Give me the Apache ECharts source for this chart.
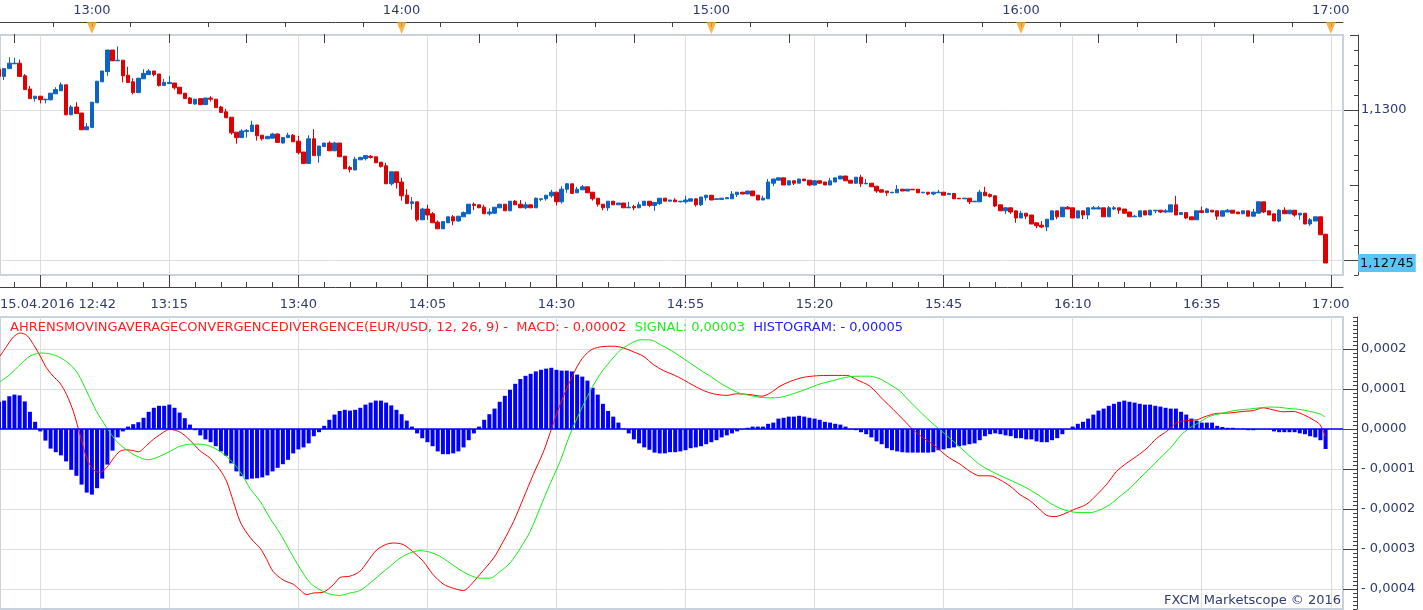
<!DOCTYPE html>
<html>
<head>
<meta charset="utf-8">
<script src="https://cdn.jsdelivr.net/npm/echarts@6/dist/echarts.min.js"></script>
<style>
html, body { margin: 0; padding: 0; background: #fff; }
#main { width: 1423px; height: 610px; }
</style>
</head>
<body>
<div id="main"></div>
<script>
// EUR/USD 1-minute bars from 12:42 (index 0) to 16:59, row = [open, close, low, high]
var candles = [
[1.13068,1.13056,1.13056,1.13068],[1.13056,1.13069,1.13050,1.13069],[1.13069,1.13078,1.13069,1.13088],[1.13077,1.13078,1.13077,1.13087],[1.13078,1.13056,1.13056,1.13084],
[1.13057,1.13034,1.13034,1.13060],[1.13035,1.13019,1.13019,1.13040],[1.13019,1.13023,1.13014,1.13023],[1.13023,1.13017,1.13011,1.13023],[1.13017,1.13018,1.13011,1.13018],
[1.13017,1.13028,1.13016,1.13028],[1.13027,1.13034,1.13027,1.13038],[1.13032,1.13042,1.13032,1.13046],[1.13042,1.12992,1.12992,1.13042],[1.12992,1.13005,1.12992,1.13008],
[1.13005,1.12994,1.12994,1.13013],[1.12995,1.12967,1.12967,1.12995],[1.12967,1.12972,1.12967,1.12978],[1.12971,1.13013,1.12971,1.13013],[1.13012,1.13048,1.13012,1.13048],
[1.13047,1.13065,1.13047,1.13065],[1.13064,1.13100,1.13057,1.13100],[1.13100,1.13082,1.13082,1.13100],[1.13082,1.13083,1.13082,1.13106],[1.13083,1.13057,1.13046,1.13083],
[1.13058,1.13046,1.13046,1.13072],[1.13047,1.13029,1.13026,1.13053],[1.13029,1.13053,1.13029,1.13053],[1.13052,1.13061,1.13052,1.13068],[1.13059,1.13065,1.13059,1.13068],
[1.13065,1.13059,1.13056,1.13065],[1.13060,1.13041,1.13039,1.13060],[1.13041,1.13046,1.13041,1.13052],[1.13044,1.13046,1.13044,1.13057],[1.13045,1.13037,1.13034,1.13045],
[1.13038,1.13027,1.13027,1.13038],[1.13028,1.13019,1.13019,1.13028],[1.13020,1.13011,1.13011,1.13022],[1.13010,1.13018,1.13009,1.13018],[1.13019,1.13009,1.13009,1.13019],
[1.13009,1.13020,1.13009,1.13020],[1.13020,1.13018,1.13014,1.13023],[1.13018,1.13004,1.13004,1.13018],[1.13005,1.12996,1.12996,1.13007],[1.12997,1.12987,1.12987,1.13002],
[1.12988,1.12962,1.12959,1.12988],[1.12963,1.12954,1.12944,1.12963],[1.12954,1.12965,1.12954,1.12968],[1.12964,1.12966,1.12954,1.12968],[1.12964,1.12975,1.12964,1.12982],
[1.12975,1.12957,1.12949,1.12975],[1.12958,1.12952,1.12949,1.12958],[1.12952,1.12956,1.12952,1.12957],[1.12953,1.12960,1.12953,1.12962],[1.12960,1.12946,1.12946,1.12961],
[1.12945,1.12954,1.12944,1.12954],[1.12954,1.12958,1.12954,1.12962],[1.12958,1.12947,1.12947,1.12960],[1.12948,1.12929,1.12926,1.12957],[1.12930,1.12911,1.12911,1.12930],
[1.12911,1.12952,1.12911,1.12958],[1.12952,1.12924,1.12924,1.12968],[1.12924,1.12940,1.12912,1.12940],[1.12939,1.12945,1.12939,1.12945],[1.12945,1.12932,1.12932,1.12948],
[1.12932,1.12945,1.12932,1.12947],[1.12945,1.12922,1.12922,1.12945],[1.12923,1.12902,1.12902,1.12923],[1.12904,1.12901,1.12896,1.12907],[1.12900,1.12918,1.12900,1.12922],
[1.12917,1.12921,1.12917,1.12922],[1.12919,1.12924,1.12916,1.12924],[1.12923,1.12921,1.12919,1.12925],[1.12922,1.12912,1.12912,1.12922],[1.12913,1.12906,1.12904,1.12913],
[1.12907,1.12877,1.12877,1.12912],[1.12877,1.12897,1.12874,1.12897],[1.12897,1.12879,1.12869,1.12897],[1.12880,1.12857,1.12849,1.12887],[1.12858,1.12844,1.12844,1.12868],
[1.12844,1.12847,1.12834,1.12855],[1.12847,1.12817,1.12814,1.12847],[1.12817,1.12835,1.12817,1.12837],[1.12835,1.12825,1.12817,1.12842],[1.12827,1.12812,1.12812,1.12830],
[1.12813,1.12802,1.12802,1.12816],[1.12802,1.12814,1.12802,1.12814],[1.12812,1.12822,1.12812,1.12822],[1.12822,1.12815,1.12808,1.12825],[1.12815,1.12823,1.12814,1.12823],
[1.12822,1.12829,1.12822,1.12831],[1.12827,1.12843,1.12827,1.12843],[1.12843,1.12841,1.12833,1.12846],[1.12842,1.12837,1.12837,1.12842],[1.12838,1.12827,1.12827,1.12842],
[1.12827,1.12830,1.12824,1.12836],[1.12828,1.12838,1.12827,1.12838],[1.12837,1.12843,1.12837,1.12843],[1.12843,1.12832,1.12832,1.12843],[1.12832,1.12848,1.12832,1.12848],
[1.12848,1.12842,1.12842,1.12850],[1.12843,1.12837,1.12837,1.12850],[1.12837,1.12842,1.12835,1.12847],[1.12842,1.12837,1.12837,1.12842],[1.12837,1.12853,1.12837,1.12854],
[1.12851,1.12852,1.12848,1.12852],[1.12852,1.12858,1.12849,1.12858],[1.12857,1.12863,1.12854,1.12867],[1.12863,1.12847,1.12841,1.12863],[1.12847,1.12868,1.12844,1.12873],
[1.12868,1.12877,1.12862,1.12878],[1.12877,1.12861,1.12861,1.12877],[1.12862,1.12868,1.12862,1.12872],[1.12867,1.12872,1.12867,1.12875],[1.12872,1.12862,1.12862,1.12872],
[1.12863,1.12852,1.12849,1.12863],[1.12853,1.12843,1.12839,1.12853],[1.12843,1.12837,1.12833,1.12843],[1.12837,1.12848,1.12832,1.12848],[1.12848,1.12842,1.12842,1.12848],
[1.12842,1.12845,1.12842,1.12845],[1.12845,1.12837,1.12837,1.12845],[1.12837,1.12838,1.12837,1.12847],[1.12839,1.12837,1.12833,1.12842],[1.12837,1.12842,1.12837,1.12847],
[1.12841,1.12848,1.12841,1.12848],[1.12848,1.12841,1.12838,1.12848],[1.12841,1.12846,1.12832,1.12846],[1.12844,1.12853,1.12842,1.12853],[1.12853,1.12848,1.12848,1.12853],
[1.12848,1.12850,1.12848,1.12850],[1.12850,1.12847,1.12847,1.12853],[1.12847,1.12848,1.12846,1.12848],[1.12847,1.12850,1.12844,1.12857],[1.12848,1.12852,1.12848,1.12852],
[1.12852,1.12842,1.12839,1.12852],[1.12842,1.12855,1.12840,1.12855],[1.12854,1.12858,1.12849,1.12858],[1.12858,1.12850,1.12850,1.12858],[1.12851,1.12852,1.12851,1.12852],
[1.12851,1.12853,1.12851,1.12853],[1.12852,1.12854,1.12852,1.12854],[1.12852,1.12860,1.12852,1.12865],[1.12859,1.12863,1.12855,1.12863],[1.12863,1.12860,1.12860,1.12863],
[1.12860,1.12865,1.12860,1.12865],[1.12865,1.12857,1.12857,1.12865],[1.12858,1.12850,1.12850,1.12858],[1.12850,1.12853,1.12850,1.12857],[1.12852,1.12880,1.12852,1.12885],
[1.12878,1.12885,1.12873,1.12885],[1.12883,1.12887,1.12883,1.12887],[1.12887,1.12875,1.12875,1.12887],[1.12875,1.12882,1.12875,1.12883],[1.12882,1.12878,1.12875,1.12882],
[1.12878,1.12885,1.12878,1.12885],[1.12885,1.12882,1.12882,1.12885],[1.12883,1.12875,1.12873,1.12883],[1.12875,1.12882,1.12875,1.12883],[1.12882,1.12878,1.12877,1.12882],
[1.12880,1.12875,1.12875,1.12880],[1.12875,1.12882,1.12875,1.12887],[1.12880,1.12887,1.12880,1.12887],[1.12885,1.12890,1.12885,1.12890],[1.12890,1.12882,1.12882,1.12890],
[1.12883,1.12878,1.12878,1.12883],[1.12878,1.12888,1.12877,1.12888],[1.12888,1.12877,1.12872,1.12892],[1.12877,1.12878,1.12877,1.12885],[1.12878,1.12872,1.12872,1.12878],
[1.12873,1.12865,1.12862,1.12873],[1.12867,1.12863,1.12863,1.12867],[1.12865,1.12862,1.12857,1.12865],[1.12862,1.12863,1.12862,1.12863],[1.12862,1.12868,1.12862,1.12875],
[1.12868,1.12865,1.12865,1.12868],[1.12865,1.12868,1.12865,1.12868],[1.12868,1.12867,1.12867,1.12868],[1.12868,1.12862,1.12862,1.12868],[1.12862,1.12863,1.12862,1.12863],
[1.12863,1.12860,1.12858,1.12863],[1.12860,1.12863,1.12858,1.12863],[1.12862,1.12863,1.12862,1.12867],[1.12863,1.12858,1.12858,1.12863],[1.12859,1.12861,1.12859,1.12862],
[1.12861,1.12852,1.12852,1.12861],[1.12853,1.12852,1.12852,1.12853],[1.12852,1.12853,1.12852,1.12853],[1.12853,1.12847,1.12843,1.12853],[1.12847,1.12848,1.12847,1.12848],
[1.12847,1.12863,1.12847,1.12867],[1.12863,1.12857,1.12857,1.12872],[1.12859,1.12856,1.12854,1.12861],[1.12857,1.12840,1.12838,1.12857],[1.12842,1.12832,1.12832,1.12842],
[1.12832,1.12837,1.12827,1.12838],[1.12837,1.12830,1.12827,1.12837],[1.12832,1.12820,1.12812,1.12832],[1.12820,1.12828,1.12820,1.12832],[1.12828,1.12823,1.12818,1.12828],
[1.12825,1.12810,1.12810,1.12825],[1.12812,1.12807,1.12803,1.12812],[1.12808,1.12805,1.12803,1.12815],[1.12805,1.12818,1.12798,1.12818],[1.12817,1.12832,1.12817,1.12832],
[1.12832,1.12822,1.12818,1.12832],[1.12822,1.12838,1.12822,1.12838],[1.12838,1.12835,1.12835,1.12840],[1.12837,1.12820,1.12820,1.12837],[1.12820,1.12832,1.12820,1.12832],
[1.12832,1.12825,1.12818,1.12832],[1.12825,1.12837,1.12818,1.12837],[1.12835,1.12837,1.12835,1.12840],[1.12835,1.12837,1.12835,1.12840],[1.12837,1.12822,1.12822,1.12837],
[1.12822,1.12837,1.12822,1.12840],[1.12835,1.12837,1.12833,1.12840],[1.12837,1.12833,1.12827,1.12837],[1.12835,1.12828,1.12828,1.12835],[1.12830,1.12822,1.12822,1.12830],
[1.12822,1.12823,1.12822,1.12825],[1.12822,1.12832,1.12822,1.12832],[1.12832,1.12825,1.12825,1.12832],[1.12825,1.12833,1.12825,1.12833],[1.12832,1.12833,1.12828,1.12833],
[1.12833,1.12830,1.12828,1.12833],[1.12830,1.12832,1.12828,1.12835],[1.12830,1.12842,1.12830,1.12842],[1.12842,1.12825,1.12825,1.12857],[1.12826,1.12829,1.12826,1.12829],
[1.12829,1.12820,1.12818,1.12829],[1.12822,1.12817,1.12817,1.12822],[1.12817,1.12832,1.12817,1.12832],[1.12832,1.12829,1.12829,1.12839],[1.12829,1.12835,1.12829,1.12837],
[1.12833,1.12830,1.12830,1.12833],[1.12832,1.12823,1.12817,1.12832],[1.12823,1.12832,1.12823,1.12832],[1.12830,1.12833,1.12830,1.12835],[1.12833,1.12828,1.12828,1.12833],
[1.12830,1.12827,1.12827,1.12830],[1.12827,1.12832,1.12827,1.12832],[1.12832,1.12823,1.12823,1.12832],[1.12823,1.12830,1.12823,1.12835],[1.12828,1.12847,1.12828,1.12847],
[1.12847,1.12830,1.12828,1.12847],[1.12832,1.12825,1.12825,1.12832],[1.12827,1.12815,1.12815,1.12827],[1.12815,1.12833,1.12813,1.12835],[1.12833,1.12827,1.12827,1.12838],
[1.12827,1.12833,1.12827,1.12833],[1.12833,1.12825,1.12822,1.12833],[1.12825,1.12828,1.12817,1.12828],[1.12828,1.12810,1.12810,1.12828],[1.12810,1.12817,1.12807,1.12820],
[1.12815,1.12822,1.12815,1.12822],[1.12822,1.12792,1.12792,1.12822],[1.12793,1.12745,1.12745,1.12793]
];

// MACD histogram, one bar per minute
var histogram = [
6.8e-5,7.1e-5,8.2e-5,8.6e-5,8.4e-5,6.9e-5,4.3e-5,1.8e-5,-0.6e-5,-2.9e-5,
-4.9e-5,-5.8e-5,-6.6e-5,-8.1e-5,-10.2e-5,-11.7e-5,-13.9e-5,-15.9e-5,-16.4e-5,-14.8e-5,
-12.4e-5,-8.9e-5,-5.4e-5,-2.1e-5,-0.6e-5,0.6e-5,1.2e-5,1.7e-5,2.8e-5,4.3e-5,
5.3e-5,5.8e-5,5.8e-5,6.1e-5,5.3e-5,4.1e-5,2.7e-5,1.1e-5,-0.3e-5,-1.6e-5,
-2.6e-5,-3.3e-5,-4.3e-5,-5.6e-5,-6.7e-5,-8.6e-5,-10.6e-5,-11.8e-5,-12.6e-5,-12.4e-5,
-12.3e-5,-12.1e-5,-11.6e-5,-10.6e-5,-9.7e-5,-8.8e-5,-7.7e-5,-6.1e-5,-5.1e-5,-4.6e-5,
-3.6e-5,-1.8e-5,-0.8e-5,0.8e-5,2.3e-5,3.6e-5,4.5e-5,4.8e-5,4.6e-5,4.8e-5,
5.3e-5,6.1e-5,6.6e-5,7.1e-5,7.1e-5,6.6e-5,5.9e-5,4.8e-5,3.7e-5,2.1e-5,
0.6e-5,-1.1e-5,-2.3e-5,-3.3e-5,-4.3e-5,-5.6e-5,-6.3e-5,-6.3e-5,-6.1e-5,-5.6e-5,
-4.6e-5,-2.8e-5,-1.1e-5,0.6e-5,2.3e-5,3.7e-5,5.1e-5,6.8e-5,8.3e-5,9.8e-5,
11.3e-5,12.5e-5,13.3e-5,13.8e-5,14.4e-5,14.8e-5,15.1e-5,15.3e-5,14.8e-5,14.6e-5,
14.6e-5,14.4e-5,13.6e-5,13.1e-5,12.1e-5,10.3e-5,8.6e-5,6.3e-5,4.5e-5,3.1e-5,
1.6e-5,0.1e-5,-1.1e-5,-2.6e-5,-3.6e-5,-4.6e-5,-5.2e-5,-5.9e-5,-6.1e-5,-6.1e-5,
-5.8e-5,-5.8e-5,-5.6e-5,-5.3e-5,-4.8e-5,-4.6e-5,-4.3e-5,-3.8e-5,-3.3e-5,-2.8e-5,
-2.1e-5,-1.6e-5,-1.1e-5,-0.6e-5,-0.1e-5,0.3e-5,0.6e-5,0.6e-5,0.6e-5,1.3e-5,
1.6e-5,2.6e-5,2.8e-5,3.1e-5,3.1e-5,3.3e-5,3.1e-5,2.8e-5,2.6e-5,2.3e-5,
1.8e-5,1.6e-5,1.3e-5,1.1e-5,0.6e-5,-0.1e-5,-0.3e-5,-0.8e-5,-1.3e-5,-2.1e-5,
-3.1e-5,-3.8e-5,-4.8e-5,-5.3e-5,-5.6e-5,-5.8e-5,-5.9e-5,-5.9e-5,-5.9e-5,-5.9e-5,
-5.9e-5,-5.8e-5,-5.3e-5,-5.1e-5,-4.8e-5,-4.6e-5,-4.3e-5,-4.1e-5,-3.8e-5,-3.6e-5,
-2.8e-5,-1.8e-5,-1.3e-5,-1.1e-5,-1.3e-5,-1.6e-5,-1.8e-5,-2.3e-5,-2.3e-5,-2.6e-5,
-2.6e-5,-3.1e-5,-3.3e-5,-3.3e-5,-2.8e-5,-2.3e-5,-1.3e-5,-0.1e-5,0.6e-5,1.3e-5,
1.8e-5,2.6e-5,3.6e-5,4.6e-5,5.1e-5,5.8e-5,6.3e-5,6.8e-5,7.1e-5,6.8e-5,
6.6e-5,6.3e-5,6.1e-5,6.1e-5,5.8e-5,5.6e-5,5.3e-5,5.1e-5,5.1e-5,4.3e-5,
3.6e-5,2.6e-5,2.1e-5,1.6e-5,1.6e-5,1.6e-5,0.8e-5,0.5e-5,0.3e-5,0.3e-5,
0.1e-5,0.1e-5,-0.3e-5,-0.3e-5,-0.1e-5,-0.1e-5,-0.1e-5,-0.6e-5,-0.8e-5,-0.8e-5,
-0.8e-5,-0.8e-5,-1.1e-5,-1.3e-5,-1.8e-5,-2.1e-5,-2.8e-5,-5.0e-5
];

// [minutes after 12:42, value]
var macdLine = [
[0.2,18.2e-5],[1.5,20.7e-5],[2.8,23.0e-5],[4.1,24.0e-5],[5.4,23.4e-5],[6.7,21.1e-5],[8.0,18.2e-5],[9.2,15.3e-5],[10.5,13.2e-5],[11.8,11.5e-5],
[13.1,8.6e-5],[14.4,4.4e-5],[15.7,-1.4e-5],[17.0,-7.3e-5],[18.3,-10.2e-5],[19.6,-10.8e-5],[20.9,-9.6e-5],[22.2,-7.3e-5],[23.4,-5.6e-5],[24.7,-5.2e-5],
[26.0,-5.4e-5],[27.0,-5.7e-5],[28.6,-4.1e-5],[29.9,-2.6e-5],[31.2,-1.4e-5],[32.5,-0.3e-5],[33.1,-0.1e-5],[35.1,-0.8e-5],[37.0,-2.8e-5],[38.9,-5.4e-5],
[40.9,-7.3e-5],[42.8,-10.2e-5],[44.1,-13.1e-5],[45.4,-18.1e-5],[46.7,-23.1e-5],[48.0,-26.0e-5],[49.3,-28.1e-5],[50.6,-29.8e-5],[51.9,-32.7e-5],[53.1,-35.6e-5],
[55.1,-37.8e-5],[57.0,-38.8e-5],[58.3,-40.2e-5],[59.6,-41.4e-5],[60.9,-41.0e-5],[62.8,-40.8e-5],[64.8,-38.9e-5],[66.1,-37.1e-5],[68.0,-36.8e-5],[69.9,-35.6e-5],
[71.2,-33.5e-5],[73.2,-30.2e-5],[75.1,-28.8e-5],[76.4,-28.5e-5],[78.3,-28.9e-5],[80.3,-30.8e-5],[82.2,-33.1e-5],[84.1,-36.4e-5],[86.1,-38.8e-5],[88.0,-39.8e-5],
[90.0,-40.4e-5],[91.3,-39.1e-5],[93.2,-36.3e-5],[95.8,-32.3e-5],[97.7,-28.1e-5],[99.7,-23.1e-5],[101.6,-17.3e-5],[103.5,-11.4e-5],[105.5,-5.6e-5],[107.1,0.3e-5],
[108.7,6.1e-5],[110.6,11.9e-5],[112.6,16.9e-5],[114.5,19.6e-5],[116.4,20.5e-5],[119.0,20.7e-5],[120.9,20.3e-5],[122.9,19.3e-5],[124.8,18.2e-5],[126.8,16.1e-5],
[128.7,14.6e-5],[130.6,13.6e-5],[132.6,12.3e-5],[134.5,10.9e-5],[136.5,9.6e-5],[138.4,8.8e-5],[141.0,8.4e-5],[142.9,8.8e-5],[145.5,8.6e-5],[147.8,8.2e-5],
[149.4,9.0e-5],[151.3,10.7e-5],[153.3,11.9e-5],[155.8,12.9e-5],[158.4,13.3e-5],[161.0,13.4e-5],[164.2,13.4e-5],[166.2,12.3e-5],[168.7,10.7e-5],[171.3,7.3e-5],
[173.3,4.8e-5],[175.2,2.3e-5],[177.1,-0.2e-5],[179.1,-2.3e-5],[181.0,-3.9e-5],[182.9,-6.0e-5],[184.2,-7.3e-5],[186.2,-8.8e-5],[188.1,-10.6e-5],[190.0,-11.7e-5],
[192.0,-11.7e-5],[193.9,-12.7e-5],[195.9,-14.3e-5],[197.8,-16.4e-5],[199.7,-17.9e-5],[201.7,-20.2e-5],[203.0,-21.6e-5],[204.6,-21.9e-5],[206.2,-21.3e-5],[208.1,-20.2e-5],
[210.7,-18.8e-5],[212.7,-16.4e-5],[214.6,-13.8e-5],[216.5,-10.6e-5],[218.5,-8.5e-5],[220.4,-6.8e-5],[222.4,-4.8e-5],[224.3,-2.3e-5],[226.2,-0.6e-5],[228.1,1.5e-5],
[230.1,2.1e-5],[232.0,2.3e-5],[233.9,3.2e-5],[235.9,3.9e-5],[238.4,4.0e-5],[241.0,4.4e-5],[243.0,4.6e-5],[244.9,5.3e-5],[246.8,4.8e-5],[248.8,4.3e-5],
[250.7,4.4e-5],[252.7,3.6e-5],[254.6,2.3e-5],[255.9,1.1e-5],[257.0,-2.0e-5]
];

var signalLine = [
[0.2,11.8e-5],[2.1,13.6e-5],[4.1,16.1e-5],[6.0,18.2e-5],[8.0,19.0e-5],[9.9,18.8e-5],[11.8,17.9e-5],[13.8,16.1e-5],[15.4,13.6e-5],[17.0,9.4e-5],
[18.9,4.4e-5],[20.9,0.3e-5],[22.8,-3.1e-5],[24.7,-5.2e-5],[26.7,-6.8e-5],[28.9,-7.7e-5],[31.2,-6.8e-5],[33.1,-5.6e-5],[35.1,-4.3e-5],[37.0,-3.8e-5],
[38.9,-3.8e-5],[40.9,-4.3e-5],[42.8,-5.6e-5],[44.8,-7.7e-5],[46.7,-10.6e-5],[48.6,-14.8e-5],[50.6,-18.1e-5],[52.5,-22.3e-5],[54.4,-26.0e-5],[56.4,-30.6e-5],
[58.3,-34.8e-5],[60.3,-38.5e-5],[62.2,-40.2e-5],[64.1,-41.3e-5],[66.1,-41.6e-5],[68.0,-41.0e-5],[69.9,-40.4e-5],[71.9,-38.5e-5],[73.8,-36.4e-5],[75.8,-34.3e-5],
[77.7,-32.3e-5],[79.6,-31.0e-5],[81.6,-30.4e-5],[83.5,-30.8e-5],[85.4,-31.8e-5],[87.4,-33.5e-5],[89.3,-35.2e-5],[91.3,-36.6e-5],[93.2,-37.3e-5],[95.1,-37.3e-5],
[97.1,-35.6e-5],[99.0,-33.5e-5],[101.0,-29.8e-5],[102.9,-25.6e-5],[104.8,-19.8e-5],[106.7,-13.9e-5],[108.7,-8.1e-5],[110.6,-1.4e-5],[112.6,4.4e-5],[114.5,9.4e-5],
[116.4,13.6e-5],[118.4,16.9e-5],[120.3,19.6e-5],[122.3,21.3e-5],[124.2,22.3e-5],[126.1,22.3e-5],[128.1,21.1e-5],[130.0,19.8e-5],[131.9,18.2e-5],[133.9,16.5e-5],
[135.8,14.8e-5],[137.8,13.2e-5],[139.7,11.5e-5],[141.6,10.1e-5],[143.6,8.9e-5],[145.5,8.4e-5],[147.4,7.9e-5],[149.4,7.8e-5],[151.3,7.9e-5],[153.3,8.6e-5],
[155.2,9.4e-5],[157.1,10.3e-5],[159.1,11.3e-5],[161.0,11.9e-5],[163.0,12.6e-5],[164.9,13.1e-5],[166.8,13.2e-5],[168.7,13.2e-5],[170.7,12.5e-5],[172.6,11.1e-5],
[174.6,9.4e-5],[176.5,6.8e-5],[178.4,4.4e-5],[180.4,1.9e-5],[182.3,-0.2e-5],[184.2,-2.3e-5],[186.2,-4.6e-5],[188.1,-6.8e-5],[190.0,-8.9e-5],[192.0,-10.4e-5],
[193.9,-11.6e-5],[195.9,-12.8e-5],[197.8,-13.9e-5],[199.7,-15.2e-5],[201.7,-16.8e-5],[203.6,-18.5e-5],[205.5,-19.8e-5],[207.5,-20.6e-5],[209.4,-20.9e-5],[211.4,-20.9e-5],
[213.3,-20.2e-5],[215.2,-18.9e-5],[217.2,-16.8e-5],[219.1,-14.8e-5],[221.0,-12.3e-5],[223.0,-9.8e-5],[224.9,-7.3e-5],[226.9,-4.8e-5],[228.8,-1.8e-5],[230.7,0.3e-5],
[232.7,1.8e-5],[234.6,3.2e-5],[236.5,3.8e-5],[238.5,4.4e-5],[240.4,4.8e-5],[242.3,5.0e-5],[244.3,5.3e-5],[246.2,5.5e-5],[248.1,5.4e-5],[250.1,5.1e-5],
[252.0,4.9e-5],[253.9,4.4e-5],[255.9,3.8e-5],[256.9,3.0e-5]
];

// axis marks, in minutes after 12:42
var hourMarks = [18, 78, 138, 198, 258];                      // 13:00 .. 17:00
var gridMinutes = [8, 33, 58, 83, 108, 133, 158, 183, 208, 233, 258];
var lowerLabels = [33, 58, 83, 108, 133, 158, 183, 208, 233, 258];
var priceTicks = [1.1275, 1.1300];
var priceLabels = [1.12745, 1.1300];
var macdTicks = [0.0002, 0.0001, 0, -0.0001, -0.0002, -0.0003, -0.0004];

var T_MIN = 0.2, T_MAX = 260.37;
var BLUE = '#0b63c4', RED = '#de0000';
var GRIDC = '#dedede', AXISC = '#404040', TXT = '#2f3a72', BORDER = '#c7d2de';
var FONT = 'DejaVu Sans';

function hhmm(t) {
    var m = 12 * 60 + 42 + Math.round(t);
    var mm = m % 60;
    return Math.floor(m / 60) + ':' + (mm < 10 ? '0' : '') + mm;
}

var minorMinutes = [], topTicks = [], topLong = [];
for (var m = 3; m < 260; m += 5) {
    if (gridMinutes.indexOf(m) < 0) minorMinutes.push(m);
}
for (var k = -2; 18 + 7.5 * k < 260; k++) {
    var v = 18 + 7.5 * k;
    if (k % 2 === 0 && k % 8 !== 0) topLong.push(v); else topTicks.push(v);
}

var chart = echarts.init(document.getElementById('main'));

var option = {
    animation: false,
    backgroundColor: '#fff',
    textStyle: { fontFamily: FONT },
    title: [{
        left: 10, top: 321, padding: 0,
        text: '{r|AHRENSMOVINGAVERAGECONVERGENCEDIVERGENCE(EUR/USD, 12, 26, 9) -  MACD: - 0,00002}  {g|SIGNAL: 0,00003}  {b|HISTOGRAM: - 0,00005}',
        textStyle: {
            fontSize: 13, fontWeight: 'normal', fontFamily: FONT,
            rich: {
                r: { color: '#ff2020', fontSize: 13, fontFamily: FONT },
                g: { color: '#22ee22', fontSize: 13, fontFamily: FONT },
                b: { color: '#2020ff', fontSize: 13, fontFamily: FONT }
            }
        }
    }, {
        right: 82, bottom: 3, padding: 0,
        text: 'FXCM Marketscope \u00a9 2016',
        textStyle: { fontSize: 13, fontWeight: 'normal', color: TXT, fontFamily: FONT }
    }],
    grid: [
        { left: 0, top: 35, width: 1343, height: 240, show: true, borderColor: BORDER, borderWidth: 2, outerBoundsMode: 'none' },
        { left: 0, top: 317, width: 1343, height: 292, show: true, borderColor: BORDER, borderWidth: 2, outerBoundsMode: 'none' },
        { left: 0, top: 22, width: 1343, height: 12, show: false, outerBoundsMode: 'none' }
    ],
    xAxis: [
        {   // time axis between the panels
            type: 'value', gridIndex: 0, min: T_MIN, max: T_MAX, position: 'bottom', offset: 12,
            axisLine: { show: true, onZero: false, lineStyle: { color: AXISC } },
            axisTick: { show: true, inside: true, length: 12, customValues: gridMinutes, lineStyle: { color: AXISC } },
            axisLabel: {
                customValues: [T_MIN].concat(lowerLabels), margin: 11, color: TXT, fontSize: 13, fontFamily: FONT,
                alignMinLabel: 'left', showMinLabel: true, showMaxLabel: true,
                formatter: function (v) { return v < 1 ? '15.04.2016 12:42' : hhmm(v); }
            },
            splitLine: { show: true, lineStyle: { color: GRIDC } }
        },
        {
            type: 'value', gridIndex: 0, min: T_MIN, max: T_MAX, position: 'bottom', offset: 12,
            axisLine: { show: false },
            axisTick: { show: true, inside: true, length: 5, customValues: minorMinutes, lineStyle: { color: AXISC } },
            axisLabel: { show: false }, splitLine: { show: false }
        },
        {   // MACD panel
            type: 'value', gridIndex: 1, min: T_MIN, max: T_MAX,
            axisLine: { show: false },
            axisTick: { show: false, customValues: gridMinutes },
            axisLabel: { show: false },
            splitLine: { show: true, lineStyle: { color: GRIDC } }
        },
        {   // hour axis on top
            type: 'value', gridIndex: 2, min: T_MIN, max: T_MAX, position: 'top',
            axisLine: { show: true, onZero: false, lineStyle: { color: AXISC } },
            axisTick: { show: true, inside: true, length: 5, customValues: topTicks, lineStyle: { color: AXISC } },
            axisLabel: { customValues: hourMarks, margin: 5, color: TXT, fontSize: 13, fontFamily: FONT, formatter: hhmm },
            splitLine: { show: false }
        },
        {
            type: 'value', gridIndex: 2, min: T_MIN, max: T_MAX, position: 'top',
            axisLine: { show: false },
            axisTick: { show: true, inside: true, length: 9, customValues: topLong, lineStyle: { color: AXISC } },
            axisLabel: { show: false }, splitLine: { show: false }
        }
    ],
    yAxis: [
        {   // price
            type: 'value', gridIndex: 0, min: 1.12725, max: 1.13125, position: 'right', offset: 15,
            axisLine: { show: true, lineStyle: { color: AXISC } },
            axisTick: { show: true, inside: true, length: 14, customValues: priceTicks, lineStyle: { color: AXISC } },
            axisLabel: {
                customValues: priceLabels, margin: 0, fontFamily: FONT, fontSize: 13,
                formatter: function (v) {
                    var s = v.toFixed(Math.abs(v - 1.13) < 1e-7 ? 4 : 5).replace('.', ',');
                    return Math.abs(v - 1.13) < 1e-7 ? '{n|' + s + '}' : '{tag|' + s + '}';
                },
                rich: {
                    n: { color: TXT, fontSize: 13, fontFamily: FONT, padding: [0, 0, 0, 3] },
                    tag: { color: '#111', fontSize: 13, fontFamily: FONT, backgroundColor: '#5bc6f6', padding: [3, 2, 2, 2] }
                }
            },
            splitLine: { show: true, lineStyle: { color: GRIDC } }
        },
        {
            type: 'value', gridIndex: 0, min: 1.12725, max: 1.13125, position: 'right', offset: 15,
            axisLine: { show: false },
            axisTick: { show: true, inside: true, length: 8, customValues: [1.12875, 1.13125], lineStyle: { color: AXISC } },
            axisLabel: { show: false }, splitLine: { show: false }
        },
        {
            type: 'value', gridIndex: 0, min: 1.12725, max: 1.13125, interval: 0.00025, position: 'right', offset: 15,
            axisLine: { show: false },
            axisTick: { show: true, inside: true, length: 4, lineStyle: { color: AXISC } },
            axisLabel: { show: false }, splitLine: { show: false }
        },
        {   // MACD values
            type: 'value', gridIndex: 1, min: -0.00045, max: 0.00028, position: 'right', offset: 14,
            axisLine: { show: true, lineStyle: { color: AXISC } },
            axisTick: { show: true, inside: true, length: 14, customValues: macdTicks, lineStyle: { color: AXISC } },
            axisLabel: {
                customValues: macdTicks, margin: 4, color: TXT, fontSize: 13, fontFamily: FONT,
                formatter: function (v) {
                    var s = Math.abs(v).toFixed(4).replace('.', ',');
                    return v < -1e-9 ? '- ' + s : s;
                }
            },
            splitLine: { show: true, lineStyle: { color: GRIDC } }
        },
        {
            type: 'value', gridIndex: 1, min: -0.00045, max: 0.00028, interval: 0.00001, position: 'right', offset: 14,
            axisLine: { show: false },
            axisTick: { show: true, inside: true, length: 4, lineStyle: { color: AXISC } },
            axisLabel: { show: false }, splitLine: { show: false }
        },
        { type: 'value', gridIndex: 2, min: 0, max: 1, show: false }
    ],
    series: [
        {
            name: 'EUR/USD', type: 'candlestick', xAxisIndex: 0, yAxisIndex: 0, layout: 'horizontal',
            data: candles.map(function (r, i) { return [i, r[0], r[1], r[2], r[3]]; }),
            encode: { x: 0, y: [1, 2, 3, 4] },
            barWidth: 4,
            itemStyle: { color: BLUE, color0: RED, borderColor: BLUE, borderColor0: RED, borderWidth: 1 }
        },
        {
            name: 'HISTOGRAM', type: 'bar', xAxisIndex: 2, yAxisIndex: 3,
            data: histogram.map(function (v, i) { return [i, v]; }),
            barWidth: 4, itemStyle: { color: '#0000ff' },
            markLine: {
                silent: true, symbol: ['none', 'none'], label: { show: false },
                lineStyle: { color: '#0000ff', type: 'solid', width: 1.5 },
                data: [{ yAxis: 0 }]
            }
        },
        {
            name: 'MACD', type: 'line', xAxisIndex: 2, yAxisIndex: 3, data: macdLine,
            showSymbol: false, smooth: 0.3, lineStyle: { color: '#ff0000', width: 1 }
        },
        {
            name: 'SIGNAL', type: 'line', xAxisIndex: 2, yAxisIndex: 3, data: signalLine,
            showSymbol: false, smooth: 0.3, lineStyle: { color: '#11ee11', width: 1 }
        },
        {
            name: 'hours', type: 'scatter', xAxisIndex: 3, yAxisIndex: 5,
            data: hourMarks.map(function (h) { return [h, 0.5]; }),
            symbol: 'triangle', symbolRotate: 180, symbolSize: [10, 12],
            itemStyle: { color: '#f6a11c' }, z: 5
        }
    ]
};

chart.setOption(option);
</script>
</body>
</html>
